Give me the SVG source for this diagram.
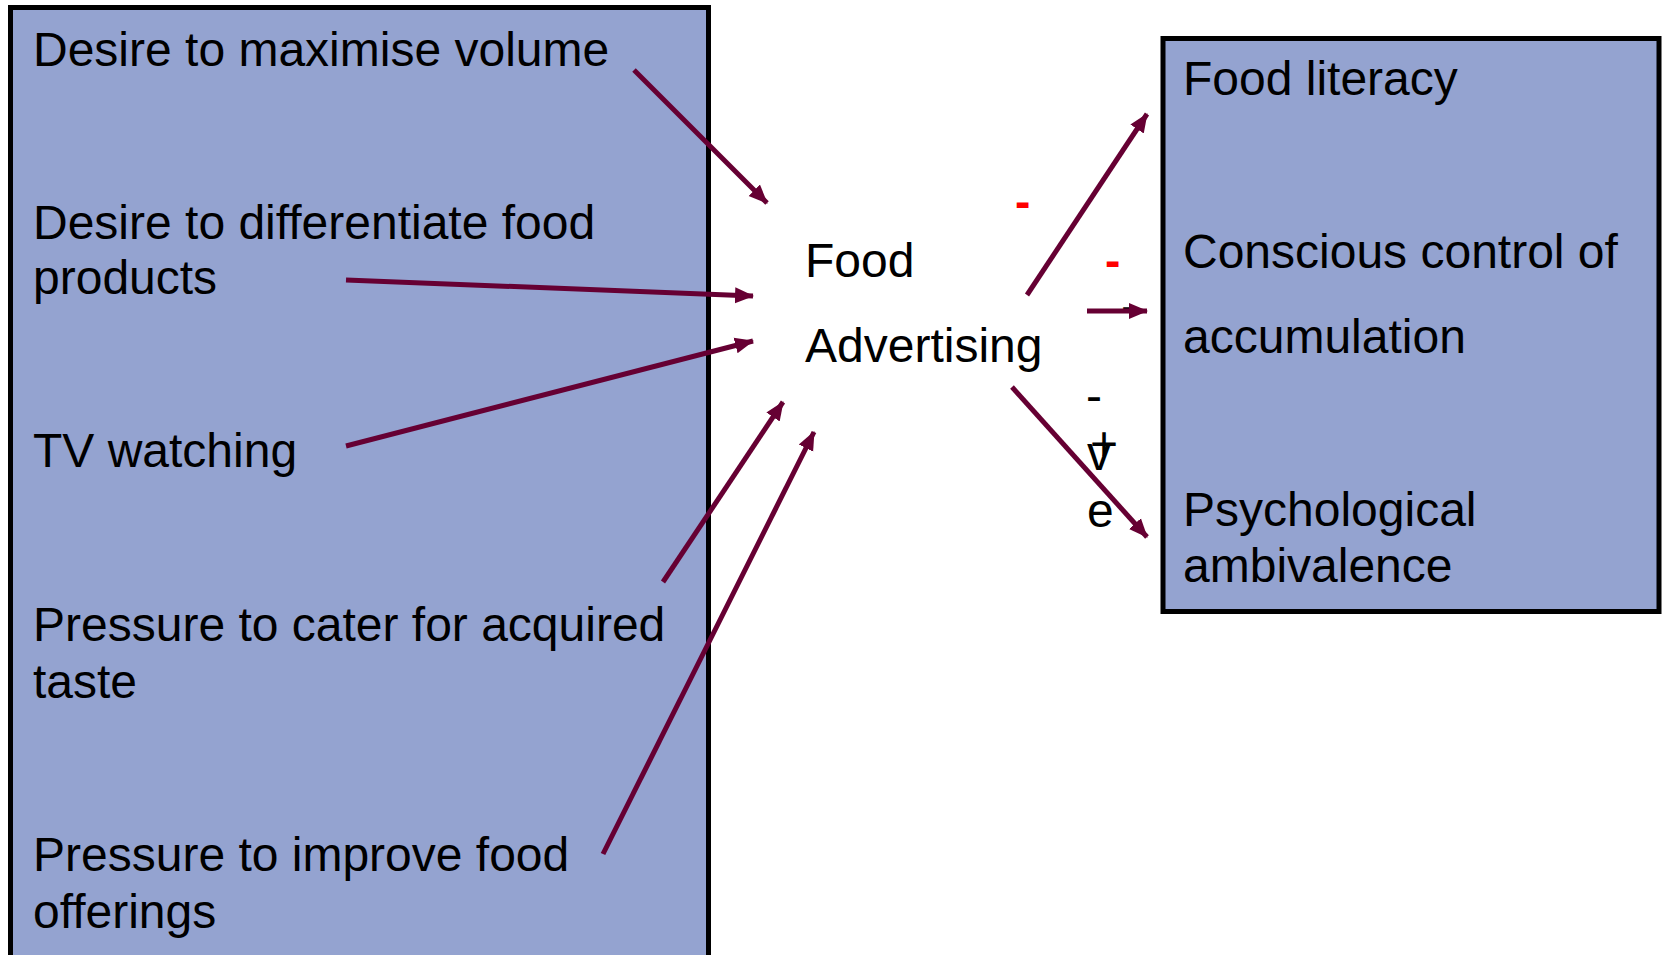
<svg xmlns="http://www.w3.org/2000/svg" width="1664" height="955" viewBox="0 0 1664 955">
<style>
.box{fill:#94A3D0;stroke:#000;stroke-width:5}
.t{font-family:"Liberation Sans",Arial,sans-serif;font-size:48px;fill:#000}
.red{font-family:"Liberation Sans",Arial,sans-serif;font-size:46px;font-weight:bold;fill:#FF0000}
.c{stroke:#660033;stroke-width:5;fill:none;marker-end:url(#ah)}
</style>
<defs>
<marker id="ah" markerUnits="userSpaceOnUse" markerWidth="20" markerHeight="18" refX="18" refY="8" orient="auto" viewBox="0 0 20 16">
<path d="M0,0 L19,8 L0,16 z" fill="#660033"/>
</marker>
</defs>
<rect width="1664" height="955" fill="#fff"/>
<g id="left-box">
<rect class="box" x="10.5" y="7.5" width="698" height="955"/>
<text class="t" x="33" y="66">Desire to maximise volume</text>
<text class="t" x="33" y="239">Desire to differentiate food</text>
<text class="t" x="33" y="294">products</text>
<text class="t" x="33" y="467">TV watching</text>
<text class="t" x="33" y="641">Pressure to cater for acquired</text>
<text class="t" x="33" y="698">taste</text>
<text class="t" x="33" y="871">Pressure to improve food</text>
<text class="t" x="33" y="928">offerings</text>
</g>
<g id="center">
<text class="t" x="805" y="277">Food</text>
<text class="t" x="805" y="362">Advertising</text>
</g>
<g id="right-box">
<rect class="box" x="1163" y="38.5" width="496" height="573"/>
<text class="t" x="1183" y="95">Food literacy</text>
<text class="t" x="1183" y="268">Conscious control of</text>
<text class="t" x="1183" y="353">accumulation</text>
<text class="t" x="1183" y="526">Psychological</text>
<text class="t" x="1183" y="582">ambivalence</text>
</g>
<g id="labels">
<text class="red" x="1015" y="217">-</text>
<text class="red" x="1105" y="276">-</text>
<text class="t" x="1121" y="322">-</text>
<text class="t" x="1086" y="412">-</text>
<text class="t" x="1090" y="460">+</text>
<text class="t" x="1087" y="470">v</text>
<text class="t" x="1087" y="527">e</text>
</g>
<g id="connectors">
<line class="c" x1="634" y1="70" x2="767" y2="203"/>
<line class="c" x1="346" y1="280" x2="753" y2="296"/>
<line class="c" x1="346" y1="446" x2="753" y2="341"/>
<line class="c" x1="663" y1="582" x2="783" y2="402"/>
<line class="c" x1="603" y1="854" x2="814" y2="432"/>
<line class="c" x1="1027" y1="295" x2="1147" y2="114"/>
<line class="c" x1="1087" y1="311" x2="1147" y2="311"/>
<line class="c" x1="1012" y1="387" x2="1147" y2="537"/>
</g>
</svg>
